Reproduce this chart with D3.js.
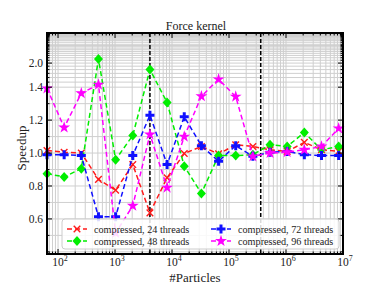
<!DOCTYPE html>
<html><head><meta charset="utf-8">
<script src="https://cdn.jsdelivr.net/npm/d3@7"></script>
<style>
body{margin:0;background:#fff}
svg{display:block;font-family:"Liberation Serif",serif}
</style>
</head><body>
<svg id="chart" width="382" height="287"></svg>
<script>
// data
var particles = [64, 128, 256, 512, 1024, 2048, 4096, 8192, 16384, 32768, 65536,
    131072, 262144, 524288, 1048576, 2097152, 4194304, 8388608];
var speedup24 = [1.015, 1.005, 1.0, 0.84, 0.775, 0.93, 0.637, 0.85, 0.997, 1.04, 0.995,
    1.05, 1.04, 1.02, 1.01, 1.065, 1.02, 1.01];
var speedup48 = [0.875, 0.855, 0.905, 2.15, 0.96, 1.107, 1.8, 1.307, 0.92, 0.755, 0.985,
    0.985, 0.99, 1.05, 1.04, 1.125, 1.02, 1.04];
var speedup72 = [0.99, 0.99, 0.985, 0.613, 0.613, 0.985, 1.23, 0.93, 1.22, 1.045, 0.95,
    1.045, 0.98, 1.005, 1.01, 0.99, 0.985, 0.985];
var speedup96 = [1.393, 1.155, 1.363, 1.45, 0.515, 0.68, 1.113, 0.79, 1.10, 1.345, 1.56,
    1.343, 0.98, 1.0, 1.005, 1.02, 1.04, 1.15];
var seriesNames = ["compressed, 24 threads", "compressed, 48 threads",
    "compressed, 72 threads", "compressed, 96 threads"];
var cacheLines = [4096, 360000];
var xTicks = [1e2, 1e3, 1e4, 1e5, 1e6, 1e7];
var yTicks = [0.6, 0.8, 1.0, 1.2, 1.4, 2.0];

var svg = d3.select("#chart"),
    pL = 47, pR = 343, pT = 33, pB = 254;

var x = d3.scaleLog().domain([64, 1e7]).range([pL, pR]);

// y axis is linear up to 1.4 and squeezed above it
var yLin = d3.scaleLinear().domain([0.387, 1.729]).range([pB, pT]);
function squash(s) {
    return s <= 1.4 ? s : 1.4 + 0.329 * (1 - Math.exp(-(s - 1.4) / 1.02));
}
function y(s) { return yLin(squash(s)); }

var xMinor = [];
[1e1, 1e2, 1e3, 1e4, 1e5, 1e6].forEach(function(d) {
    for (var m = 2; m < 10; m++) if (m * d >= 64 && m * d <= 1e7) xMinor.push(m * d);
});
var yMinor = d3.range(0.4, 1.45, 0.1).concat(d3.range(1.5, 3.05, 0.1), d3.range(3.2, 8, 0.2))
    .filter(function(v) { return !yTicks.some(function(t) { return Math.abs(t - v) < 1e-6; }); });

// grid
var grid = svg.append("g").attr("stroke", "#cfcfcf").attr("stroke-width", 1);
grid.selectAll(".gx").data(xTicks.concat(xMinor)).enter().append("line")
    .attr("x1", function(d) { return x(d); }).attr("x2", function(d) { return x(d); })
    .attr("y1", pT).attr("y2", pB);
grid.selectAll(".gy").data(yTicks.concat(yMinor)).enter().append("line")
    .attr("x1", pL).attr("x2", pR)
    .attr("y1", function(d) { return y(d); }).attr("y2", function(d) { return y(d); });

// cache size markers
svg.selectAll(".cache").data(cacheLines).enter().append("line")
    .attr("x1", function(d) { return x(d); }).attr("x2", function(d) { return x(d); })
    .attr("y1", pT).attr("y2", pB)
    .attr("stroke", "#000").attr("stroke-width", 1.5).attr("stroke-dasharray", "4,2");

var series = [
    {name: seriesNames[0], values: speedup24, color: "#ff1a1a", marker: "x"},
    {name: seriesNames[1], values: speedup48, color: "#00ee00", marker: "diamond"},
    {name: seriesNames[2], values: speedup72, color: "#1010ff", marker: "plus"},
    {name: seriesNames[3], values: speedup96, color: "#ff00ff", marker: "star"}
];

function marker(g, type, cx, cy, color) {
    if (type == "x") {
        g.append("path").attr("d", "M-3.3,-3.3L3.3,3.3M-3.3,3.3L3.3,-3.3")
            .attr("transform", "translate(" + cx + "," + cy + ")")
            .attr("stroke", color).attr("stroke-width", 1.4).attr("fill", "none");
    } else if (type == "diamond") {
        g.append("path").attr("d", "M0,-5L4.5,0L0,5L-4.5,0Z")
            .attr("transform", "translate(" + cx + "," + cy + ")").attr("fill", color);
    } else if (type == "plus") {
        g.append("path").attr("d", "M-1.5,-4.5H1.5V-1.5H4.5V1.5H1.5V4.5H-1.5V1.5H-4.5V-1.5H-1.5Z")
            .attr("transform", "translate(" + cx + "," + cy + ")").attr("fill", color);
    } else {
        g.append("path").attr("d", d3.symbol(d3.symbolStar, 44)())
            .attr("transform", "translate(" + cx + "," + cy + ")").attr("fill", color);
    }
}

var line = d3.line()
    .x(function(d, i) { return x(particles[i]); })
    .y(function(d) { return y(d); });

var plot = svg.append("g");
series.forEach(function(s) {
    plot.append("path").datum(s.values)
        .attr("d", line)
        .attr("fill", "none").attr("stroke", s.color)
        .attr("stroke-width", 1.5).attr("stroke-dasharray", "5,3");
    s.values.forEach(function(v, i) { marker(plot, s.marker, x(particles[i]), y(v), s.color); });
});

// ticks, all four sides, pointing in
var ticks = svg.append("g").attr("stroke", "#000").attr("stroke-width", 1);
function tickX(vals, len) {
    vals.forEach(function(d) {
        ticks.append("line").attr("x1", x(d)).attr("x2", x(d)).attr("y1", pB).attr("y2", pB - len);
        ticks.append("line").attr("x1", x(d)).attr("x2", x(d)).attr("y1", pT).attr("y2", pT + len);
    });
}
function tickY(vals, len) {
    vals.forEach(function(d) {
        ticks.append("line").attr("y1", y(d)).attr("y2", y(d)).attr("x1", pL).attr("x2", pL + len);
        ticks.append("line").attr("y1", y(d)).attr("y2", y(d)).attr("x1", pR).attr("x2", pR - len);
    });
}
tickX(xTicks, 5); tickX(xMinor, 2.5);
tickY(yTicks, 5); tickY(yMinor, 2.5);

svg.append("rect").attr("x", pL).attr("y", pT)
    .attr("width", pR - pL).attr("height", pB - pT)
    .attr("fill", "none").attr("stroke", "#000").attr("stroke-width", 2);

// tick labels
svg.selectAll(".yl").data(yTicks).enter().append("text")
    .attr("x", pL - 4).attr("y", function(d) { return y(d); })
    .attr("dy", "0.35em").attr("text-anchor", "end")
    .attr("font-size", 11.5).attr("fill", "#222")
    .text(function(d) { return d.toFixed(1); });

var xl = svg.selectAll(".xl").data(xTicks).enter().append("text")
    .attr("x", function(d) { return x(d) + 2; }).attr("y", 266)
    .attr("text-anchor", "middle").attr("font-size", 11.5).attr("fill", "#222");
xl.append("tspan").text("10");
xl.append("tspan").attr("dy", -5).attr("font-size", 8)
    .text(function(d) { return Math.round(Math.log10(d)); });

// legend
var lg = svg.append("g");
lg.append("rect").attr("x", 62).attr("y", 219).attr("width", 277).attr("height", 30)
    .attr("rx", 3).attr("fill", "#fff").attr("fill-opacity", 0.85)
    .attr("stroke", "#ccc").attr("stroke-width", 1);
var legPos = [[67, 229], [67, 241], [211, 229], [211, 241]];
series.forEach(function(s, i) {
    var lx = legPos[i][0], ly = legPos[i][1];
    lg.append("line").attr("x1", lx).attr("x2", lx + 20).attr("y1", ly).attr("y2", ly)
        .attr("stroke", s.color).attr("stroke-width", 1.5).attr("stroke-dasharray", "5,3");
    marker(lg, s.marker, lx + 10, ly, s.color);
    lg.append("text").attr("x", lx + 27).attr("y", ly).attr("dy", "0.35em")
        .attr("font-size", 10.2).attr("fill", "#222").text(s.name);
});

// labels
svg.append("text").attr("x", 196).attr("y", 26).attr("dy", "0.35em")
    .attr("text-anchor", "middle").attr("font-size", 12).attr("fill", "#222")
    .text("Force kernel");
svg.append("text").attr("transform", "translate(21,148) rotate(-90)")
    .attr("dy", "0.35em").attr("text-anchor", "middle").attr("font-size", 13)
    .attr("fill", "#222").text("Speedup");
svg.append("text").attr("x", 195).attr("y", 277).attr("dy", "0.35em")
    .attr("text-anchor", "middle").attr("font-size", 13).attr("fill", "#222")
    .text("#Particles");
</script>
</body></html>
